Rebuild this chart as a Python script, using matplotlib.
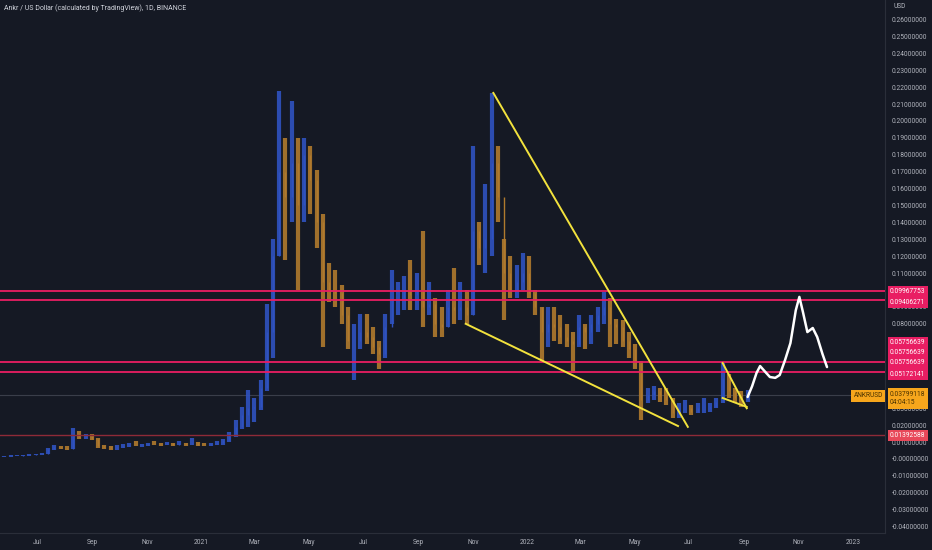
import numpy as np
import pandas as pd
import matplotlib
matplotlib.use('Agg')
import matplotlib.pyplot as plt
from matplotlib import font_manager
from matplotlib.transforms import blended_transform_factory

## weekly bars (high, low, close), first week 2020-05-25
week_start = '2020-05-25'
highs = [0.0020, 0.0021, 0.0023, 0.0025, 0.0027, 0.0030, 0.0034, 0.0065, 0.0080, 0.0078,
         0.0075, 0.0185, 0.0165, 0.0150, 0.0145, 0.0122, 0.0082, 0.0075, 0.0080, 0.0086,
         0.0095, 0.0105, 0.0090, 0.0096, 0.0105, 0.0095, 0.0098, 0.0095, 0.0105, 0.0097,
         0.0125, 0.0098, 0.0092, 0.0095, 0.0105, 0.0120, 0.0160, 0.0230, 0.0310, 0.0410,
         0.0360, 0.0470, 0.0920, 0.1300, 0.2180, 0.1900, 0.2120, 0.1900, 0.1900, 0.1850,
         0.1710, 0.1450, 0.1160, 0.1120, 0.1030, 0.0900, 0.0800, 0.0860, 0.0860, 0.0780,
         0.0700, 0.0860, 0.1120, 0.1050, 0.1080, 0.1180, 0.1100, 0.1350, 0.1050, 0.0950,
         0.0900, 0.1000, 0.1130, 0.1050, 0.1000, 0.1850, 0.1400, 0.1630, 0.2166, 0.1850,
         0.1300, 0.1200, 0.1150, 0.1220, 0.1200, 0.1000, 0.0900, 0.0900, 0.0900, 0.0850,
         0.0800, 0.0750, 0.0850, 0.0800, 0.0850, 0.0900, 0.0990, 0.0950, 0.0830, 0.0820,
         0.0750, 0.0680, 0.0580, 0.0420, 0.0430, 0.0420, 0.0420, 0.0360, 0.0330, 0.0350,
         0.0320, 0.0330, 0.0360, 0.0330, 0.0360, 0.0570, 0.0500, 0.0420, 0.0400, 0.0410]
lows = [0.0012, 0.0014, 0.0016, 0.0018, 0.0020, 0.0022, 0.0025, 0.0030, 0.0052, 0.0058,
        0.0055, 0.0060, 0.0118, 0.0120, 0.0110, 0.0065, 0.0060, 0.0055, 0.0056, 0.0065,
        0.0070, 0.0075, 0.0070, 0.0075, 0.0080, 0.0078, 0.0080, 0.0078, 0.0082, 0.0078,
        0.0085, 0.0078, 0.0075, 0.0078, 0.0082, 0.0085, 0.0100, 0.0130, 0.0180, 0.0190,
        0.0220, 0.0290, 0.0400, 0.0600, 0.1200, 0.1180, 0.1400, 0.1000, 0.1400, 0.1450,
        0.1250, 0.0660, 0.0930, 0.0900, 0.0800, 0.0650, 0.0470, 0.0650, 0.0680, 0.0620,
        0.0530, 0.0600, 0.0800, 0.0850, 0.0880, 0.0880, 0.0880, 0.0780, 0.0850, 0.0720,
        0.0720, 0.0780, 0.0800, 0.0820, 0.0800, 0.0850, 0.1150, 0.1100, 0.1200, 0.1400,
        0.0820, 0.0950, 0.0950, 0.1000, 0.0950, 0.0850, 0.0580, 0.0660, 0.0700, 0.0680,
        0.0660, 0.0510, 0.0660, 0.0650, 0.0680, 0.0750, 0.0800, 0.0660, 0.0680, 0.0660,
        0.0600, 0.0530, 0.0230, 0.0330, 0.0350, 0.0340, 0.0320, 0.0240, 0.0240, 0.0270,
        0.0260, 0.0270, 0.0270, 0.0280, 0.0300, 0.0330, 0.0360, 0.0330, 0.0310, 0.0340]
closes = [0.0016, 0.0018, 0.0020, 0.0022, 0.0024, 0.0027, 0.0030, 0.0060, 0.0070, 0.0066,
          0.0062, 0.0150, 0.0130, 0.0135, 0.0120, 0.0075, 0.0070, 0.0065, 0.0070, 0.0078,
          0.0085, 0.0082, 0.0085, 0.0090, 0.0088, 0.0086, 0.0092, 0.0085, 0.0095, 0.0088,
          0.0092, 0.0085, 0.0082, 0.0090, 0.0095, 0.0110, 0.0145, 0.0190, 0.0260, 0.0300,
          0.0310, 0.0420, 0.0750, 0.1200, 0.1700, 0.1550, 0.1750, 0.1500, 0.1800, 0.1650,
          0.1400, 0.1050, 0.1000, 0.0980, 0.0850, 0.0700, 0.0700, 0.0750, 0.0720, 0.0660,
          0.0620, 0.0780, 0.0950, 0.0950, 0.1000, 0.0970, 0.1000, 0.0900, 0.0920, 0.0800,
          0.0780, 0.0900, 0.0880, 0.0900, 0.0850, 0.1350, 0.1250, 0.1300, 0.1750, 0.1550,
          0.1100, 0.1000, 0.1050, 0.1100, 0.0980, 0.0900, 0.0750, 0.0800, 0.0780, 0.0720,
          0.0700, 0.0680, 0.0780, 0.0750, 0.0800, 0.0850, 0.0900, 0.0800, 0.0780, 0.0700,
          0.0650, 0.0580, 0.0350, 0.0380, 0.0400, 0.0370, 0.0350, 0.0270, 0.0300, 0.0300,
          0.0280, 0.0300, 0.0300, 0.0310, 0.0340, 0.0480, 0.0400, 0.0360, 0.0350, 0.03799118]

## horizontal levels and their right-hand labels
pink_levels = [0.09967753, 0.09406271, 0.05756639, 0.05172141]
red_level = 0.01392588
last_price = 0.03799118
countdown = '04:04:15'
symbol = 'ANKRUSD'

## drawn trend lines (start date, start price, end date, end price)
yellow_lines = [
    ('2021-11-24', 0.2166, '2022-06-30', 0.0190),
    ('2021-10-24', 0.0800, '2022-06-19', 0.0195),
    ('2022-08-08', 0.0568, '2022-09-04', 0.0300),
    ('2022-08-08', 0.0361, '2022-09-04', 0.0308),
]

## hand drawn projection
proj_dates = ['2022-09-05', '2022-09-10', '2022-09-15', '2022-09-19', '2022-09-24', '2022-09-30',
              '2022-10-06', '2022-10-11', '2022-10-17', '2022-10-23', '2022-10-29', '2022-11-02',
              '2022-11-06', '2022-11-11', '2022-11-17', '2022-11-22', '2022-11-28', '2022-12-03']
proj_vals = [0.0367, 0.0430, 0.0509, 0.0550, 0.0520, 0.0485,
             0.0480, 0.0497, 0.0586, 0.0686, 0.0880, 0.0959,
             0.0870, 0.0751, 0.0775, 0.0722, 0.0620, 0.0544]

## axis ticks
y_ticks = [round(0.01 * i, 2) for i in range(-4, 27)]
x_tick_dates = ['2020-07-01', '2020-09-01', '2020-11-01', '2021-01-01', '2021-03-01', '2021-05-01',
                '2021-07-01', '2021-09-01', '2021-11-01', '2022-01-01', '2022-03-01', '2022-05-01',
                '2022-07-01', '2022-09-01', '2022-11-01', '2023-01-01']
x_tick_labels = ['Jul', 'Sep', 'Nov', '2021', 'Mar', 'May', 'Jul', 'Sep', 'Nov', '2022',
                 'Mar', 'May', 'Jul', 'Sep', 'Nov', '2023']

BG = '#151924'
TXT = '#b2b5be'
PINK = '#e91e63'
BLUE = '#2f52c0'
ORANGE = '#b07a2e'

installed = {f.name for f in font_manager.fontManager.ttflist}
if 'Liberation Sans Narrow' in installed:
    plt.rcParams['font.family'] = ['Liberation Sans Narrow', 'DejaVu Sans']
    FS = 6.0
else:
    plt.rcParams['font.family'] = ['Roboto', 'DejaVu Sans']
    FS = 4.8

W, H = 932, 550
fig = plt.figure(figsize=(W / 100, H / 100), dpi=100, facecolor=BG)
ax = fig.add_axes([0, 17 / H, 885 / W, 533 / H], facecolor=BG)

dates = pd.date_range(week_start, periods=len(closes), freq='7D')
opens = [closes[0]] + closes[:-1]
cols = [BLUE if c >= o else ORANGE for o, c in zip(opens, closes)]
ax.vlines(dates, lows, highs, colors=cols, lw=3.0, alpha=0.9, zorder=2)
ax.vlines(dates, np.minimum(opens, closes), np.maximum(opens, closes), colors=cols, lw=1.0, zorder=2)

## levels
ax.axhline(last_price, color='#3a3e4a', lw=0.8, zorder=1)
for lv in pink_levels:
    ax.axhline(lv, color=PINK, lw=1.3, zorder=3)
ax.axhline(red_level, color='#8e2a38', lw=1.0, zorder=3)

for d0, v0, d1, v1 in yellow_lines:
    ax.plot(pd.to_datetime([d0, d1]), [v0, v1], color='#f2e23d', lw=1.4, zorder=4)

ax.plot(pd.to_datetime(proj_dates), proj_vals, color='white', lw=1.8, zorder=5,
        solid_capstyle='round', solid_joinstyle='round')

ax.set_xlim(pd.Timestamp('2020-05-20'), pd.Timestamp('2023-02-06'))
ax.set_ylim(-0.0438, 0.2716)

## axes styling
for s in ['top', 'left']:
    ax.spines[s].set_visible(False)
for s in ['right', 'bottom']:
    ax.spines[s].set_color('#2a2e39')
    ax.spines[s].set_linewidth(0.8)
ax.yaxis.tick_right()
ax.set_yticks(y_ticks)
ax.set_yticklabels(['-0.00000000' if t == 0 else '%.8f' % t for t in y_ticks])
ax.set_xticks(pd.to_datetime(x_tick_dates))
ax.set_xticklabels(x_tick_labels)
ax.tick_params(axis='y', length=0, pad=5, labelsize=FS, labelcolor=TXT)
ax.tick_params(axis='x', length=0, pad=4, labelsize=FS, labelcolor=TXT)

fig.text(4 / W, 1 - 8 / H, 'Ankr / US Dollar (calculated by TradingView), 1D, BINANCE',
         color='#d1d4dc', fontsize=FS + 0.2, va='center', ha='left')
fig.text(893 / W, 1 - 7 / H, 'USD', color=TXT, fontsize=FS, va='center', ha='left')

## price labels on the scale
tr = blended_transform_factory(ax.transAxes, ax.transData)
label_offsets = [(pink_levels[0], -1), (pink_levels[1], -2), (pink_levels[2], 19),
                 (pink_levels[2], 9), (pink_levels[2], -1), (pink_levels[3], -3)]
for val, dy in label_offsets:
    ax.annotate('%.8f' % val, xy=(1.0, val), xycoords=tr, xytext=(5, dy),
                textcoords='offset pixels', ha='left', va='center', color='white', fontsize=FS,
                annotation_clip=False, zorder=10,
                bbox=dict(boxstyle='square,pad=0.35', fc=PINK, ec='none'))
ax.annotate('%.8f' % red_level, xy=(1.0, red_level), xycoords=tr, xytext=(5, 0),
            textcoords='offset pixels', ha='left', va='center', color='white', fontsize=FS,
            annotation_clip=False, zorder=10,
            bbox=dict(boxstyle='square,pad=0.35', fc='#e8485a', ec='none'))
ax.annotate('%.8f\n%s' % (last_price, countdown), xy=(1.0, last_price), xycoords=tr,
            xytext=(5, 4), textcoords='offset pixels', ha='left', va='top', color='#4a3200',
            fontsize=FS, linespacing=1.3, annotation_clip=False, zorder=10,
            bbox=dict(boxstyle='square,pad=0.35', fc='#f7a61c', ec='none'))
ax.annotate(symbol, xy=(1.0, last_price), xycoords=tr, xytext=(-2, -1),
            textcoords='offset pixels', ha='right', va='center', color='#4a3200',
            fontsize=FS, annotation_clip=False, zorder=10,
            bbox=dict(boxstyle='square,pad=0.35', fc='#f7a61c', ec='none'))

fig.savefig('out.png', dpi=100, facecolor=BG)
